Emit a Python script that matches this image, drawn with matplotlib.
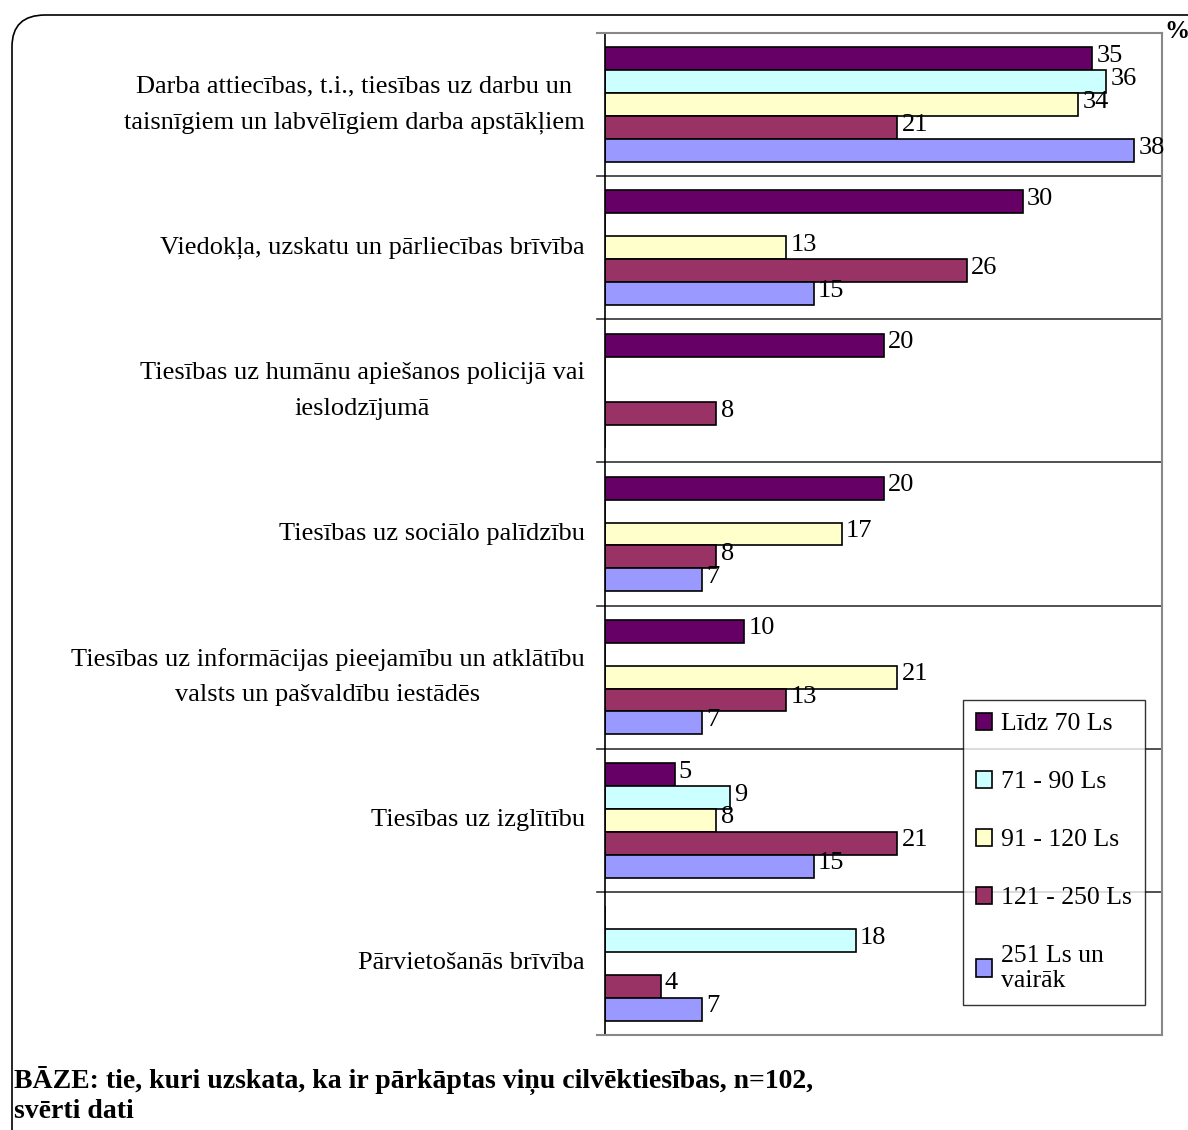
import numpy as np
import matplotlib
matplotlib.use("Agg")
import matplotlib.pyplot as plt
from matplotlib.patches import FancyBboxPatch

categories = [
    "Darba attiecības, t.i., tiesības uz darbu un\ntaisnīgiem un labvēlīgiem darba apstākļiem",
    "Viedokļa, uzskatu un pārliecības brīvība",
    "Tiesības uz humānu apiešanos policijā vai\nieslodzījumā",
    "Tiesības uz sociālo palīdzību",
    "Tiesības uz informācijas pieejamību un atklātību\nvalsts un pašvaldību iestādēs",
    "Tiesības uz izglītību",
    "Pārvietošanās brīvība",
]
series_names = ["Līdz 70 Ls", "71 - 90 Ls", "91 - 120 Ls", "121 - 250 Ls", "251 Ls un\nvairāk"]
nan = np.nan
lidz70 = [35, 30, 20, 20, 10, 5, nan]
s71_90 = [36, nan, nan, nan, nan, 9, 18]
s91_120 = [34, 13, nan, 17, 21, 8, nan]
s121_250 = [21, 26, 8, 8, 13, 21, 4]
s251 = [38, 15, nan, 7, 7, 15, 7]
series = [lidz70, s71_90, s91_120, s121_250, s251]
colors = ["#660066", "#CCFFFF", "#FFFFCC", "#993366", "#9999FF"]

plt.rcParams['font.family'] = ['Liberation Serif', 'DejaVu Serif']

fig = plt.figure(figsize=(11.88, 11.30), dpi=100)
ax = fig.add_axes([605/1188, 1 - 1035/1130, (1162-605)/1188, (1035-33)/1130])

n = len(series)
bh = 0.16
y = np.arange(len(categories))
for i, (vals, col) in enumerate(zip(series, colors)):
    ypos = y + (i - (n - 1) / 2) * bh
    v = np.array(vals, dtype=float)
    ax.barh(ypos, np.nan_to_num(v), height=bh, color=col, edgecolor='black', linewidth=1.2,
            label=series_names[i])
    for yy, val in zip(ypos, v):
        if not np.isnan(val):
            ax.text(val + 0.3, yy - 0.02, f"{int(val)}", va='center', ha='left', fontsize=19)

ax.set_xlim(0, 40)
ax.set_ylim(len(categories) - 0.5, -0.5)
ax.set_xticks([])
ax.set_yticks([])
# category dividers + little ticks left of the axis
for b in np.arange(0.5, len(categories) - 0.5, 1):
    ax.axhline(b, color='#333333', linewidth=1.2, clip_on=False)
    ax.plot([-0.6, 0], [b, b], color='#333333', linewidth=1.2, clip_on=False)
ax.plot([-0.6, 0], [-0.5, -0.5], color='#888888', linewidth=1.5, clip_on=False)
ax.plot([-0.6, 0], [6.5, 6.5], color='#888888', linewidth=1.5, clip_on=False)
for s in ['top', 'right', 'bottom']:
    ax.spines[s].set_color('#888888')
    ax.spines[s].set_linewidth(1.5)
ax.spines['left'].set_color('black')
ax.spines['left'].set_linewidth(1.2)

for yy, lab in zip(y, categories):
    ax.text(-1.45, yy, lab, ha='right', va='center', multialignment='center',
            fontsize=19, linespacing=1.8)

ax.text(1.005, 0.99, "%", transform=ax.transAxes, fontsize=18, fontweight='bold',
        ha='left', va='bottom')

leg = ax.legend(loc='lower right', bbox_to_anchor=((1145-605)/(1162-605), (1035-1005)/(1035-33)),
                fontsize=18.5, frameon=True, fancybox=False, edgecolor='black',
                handlelength=0.65, handleheight=0.65, handletextpad=0.35,
                labelspacing=1.38, borderpad=0.5, borderaxespad=0)
leg.get_frame().set_linewidth(1.0)
for h in leg.legend_handles:
    h.set_linewidth(1.2)

# outer rounded frame
frame = FancyBboxPatch((12/1188, -0.05), 1.1, 1 - 15/1130 + 0.05,
                       boxstyle="round,pad=0,rounding_size=0.028",
                       transform=fig.transFigure, facecolor='none', edgecolor='black',
                       linewidth=1.2, clip_on=False)
fig.patches.append(frame)

fig.text(14/1188, 1 - 1080/1130, "BĀZE: tie, kuri uzskata, ka ir pārkāptas viņu cilvēktiesības, n=102,",
         fontsize=20, fontweight='bold', ha='left', va='center')
fig.text(14/1188, 1 - 1112/1130, "svērti dati", fontsize=20, fontweight='bold', ha='left', va='center')

fig.savefig("out.png", dpi=100)
